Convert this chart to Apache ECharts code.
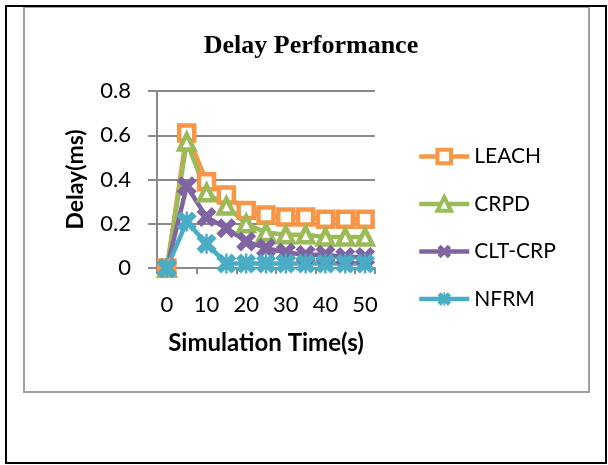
<!DOCTYPE html>
<html>
<head>
<meta charset="utf-8">
<script src="https://cdn.jsdelivr.net/npm/echarts@6/dist/echarts.min.js"></script>
<style>
  html, body { margin: 0; padding: 0; background: #fff; }
  #chart { width: 608px; height: 465px; }
</style>
</head>
<body>
<div id="chart"></div>
<script>
const times = ["0", "5", "10", "15", "20", "25", "30", "35", "40", "45", "50"];
const leach = [0, 0.61, 0.39, 0.33, 0.26, 0.24, 0.23, 0.23, 0.22, 0.22, 0.22];
const crpd = [0, 0.57, 0.34, 0.28, 0.20, 0.16, 0.15, 0.15, 0.14, 0.14, 0.14];
const cltCrp = [0, 0.37, 0.23, 0.18, 0.12, 0.09, 0.07, 0.06, 0.06, 0.05, 0.05];
const nfrm = [0, 0.21, 0.11, 0.02, 0.02, 0.02, 0.02, 0.02, 0.02, 0.02, 0.02];

const gridColor = "#8a8a8a";
const labelFont = "Lato, 'DejaVu Sans', sans-serif";

// thick X and asterisk shapes for the two "cross" markers
const crossPath = "path://M0,2.4 L2.4,0 L5,2.6 L7.6,0 L10,2.4 L7.4,5 L10,7.6 L7.6,10 L5,7.4 L2.4,10 L0,7.6 L2.6,5 Z";
const starPath = "path://M0,2.4 L2.4,0 L5,2.6 L7.6,0 L10,2.4 L7.4,5 L10,7.6 L7.6,10 L5,7.4 L2.4,10 L0,7.6 L2.6,5 Z M4.4,0 L5.6,0 L5.6,10 L4.4,10 Z";

function hollowSeries(name, data, color, symbol) {
    return {
        name: name,
        type: "line",
        data: data,
        symbol: symbol,
        symbolSize: 15,
        showAllSymbol: true,
        lineStyle: { color: color, width: 4.5 },
        itemStyle: { color: "#ffffff", borderColor: color, borderWidth: 4.5 }
    };
}

function crossSeries(name, data, color, symbol) {
    return {
        name: name,
        type: "line",
        data: data,
        symbol: symbol,
        symbolSize: 20,
        showAllSymbol: true,
        lineStyle: { color: color, width: 4.5 },
        itemStyle: { color: color, borderWidth: 0 }
    };
}

const chart = echarts.init(document.getElementById("chart"), null, { renderer: "canvas" });

chart.setOption({
    animation: false,
    backgroundColor: "#ffffff",
    title: {
        text: "Delay Performance",
        left: 306,
        textAlign: "center",
        top: 28,
        textStyle: {
            fontFamily: "'Liberation Serif', 'Times New Roman', serif",
            fontWeight: "bold",
            fontSize: 26,
            color: "#000"
        }
    },
    graphic: [
        {
            type: "rect",
            silent: true,
            z: -10,
            shape: { x: 24, y: 7, width: 565, height: 385 },
            style: { fill: "none", stroke: "#a0a0a0", lineWidth: 2 }
        },
        {
            type: "rect",
            silent: true,
            z: -9,
            shape: { x: 6, y: 6, width: 600, height: 457 },
            style: { fill: "none", stroke: "#000", lineWidth: 2 }
        }
    ],
    legend: {
        orient: "vertical",
        left: 412,
        top: 141,
        itemWidth: 50,
        itemHeight: 17,
        itemGap: 26.5,
        lineStyle: { width: 4.5 },
        itemStyle: { borderWidth: 4 },
        textStyle: { fontFamily: labelFont, fontSize: 21, color: "#000" },
        data: ["LEACH", "CRPD", "CLT-CRP", "NFRM"]
    },
    grid: { left: 157, right: 233, top: 91, bottom: 197 },
    xAxis: {
        type: "category",
        data: times,
        boundaryGap: true,
        name: "Simulation Time(s)",
        nameLocation: "middle",
        nameGap: 63,
        nameTextStyle: { fontFamily: labelFont, fontWeight: "bold", fontSize: 24, color: "#000" },
        axisLine: { lineStyle: { color: gridColor, width: 2 } },
        axisTick: { show: true, interval: 1, length: 6, lineStyle: { color: gridColor, width: 2 } },
        axisLabel: { interval: 1, margin: 26, fontFamily: labelFont, fontSize: 22, color: "#000" },
        splitLine: { show: false }
    },
    yAxis: {
        type: "value",
        min: 0,
        max: 0.8,
        interval: 0.2,
        name: "Delay(ms)",
        nameLocation: "middle",
        nameGap: 70,
        nameTextStyle: { fontFamily: labelFont, fontWeight: "bold", fontSize: 23, color: "#000" },
        axisLine: { show: true, lineStyle: { color: gridColor, width: 2 } },
        axisTick: { show: true, length: 9, lineStyle: { color: gridColor, width: 2 } },
        axisLabel: { margin: 26, fontFamily: labelFont, fontSize: 22, color: "#000" },
        splitLine: { lineStyle: { color: gridColor, width: 2 } }
    },
    series: [
        hollowSeries("LEACH", leach, "#F79646", "rect"),
        hollowSeries("CRPD", crpd, "#9BBB59", "triangle"),
        crossSeries("CLT-CRP", cltCrp, "#8064A2", crossPath),
        crossSeries("NFRM", nfrm, "#4BACC6", starPath)
    ]
});
</script>
</body>
</html>
